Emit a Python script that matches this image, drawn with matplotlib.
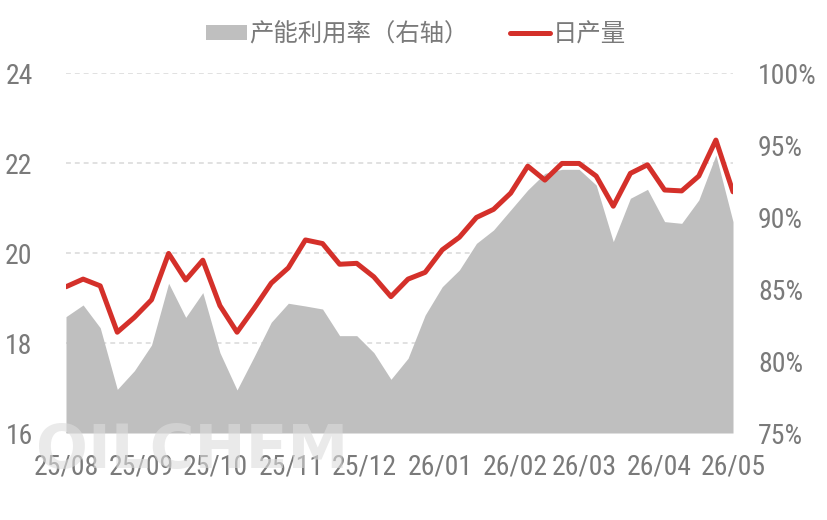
import os
import matplotlib
matplotlib.use('Agg')
import matplotlib.pyplot as plt
from matplotlib.patches import Patch
from matplotlib.lines import Line2D
from matplotlib import font_manager
from matplotlib.font_manager import FontProperties
import pandas as pd

# ---------------- data ----------------
dates = pd.date_range('2025-08-01', periods=40, freq='7D')
daily_output = [19.25, 19.42, 19.27, 18.24, 18.57, 18.96, 19.99, 19.40, 19.84, 18.83,
                18.24, 18.77, 19.33, 19.67, 20.29, 20.21, 19.75, 19.77, 19.47, 19.03,
                19.42, 19.57, 20.07, 20.35, 20.79, 20.97, 21.33, 21.93, 21.62, 21.99,
                21.99, 21.71, 21.04, 21.77, 21.96, 21.40, 21.38, 21.71, 22.51, 21.36]
utilization = [83.08, 83.89, 82.31, 78.03, 79.33, 81.11, 85.40, 83.03, 84.75, 80.58,
               77.99, 80.30, 82.69, 84.01, 83.82, 83.61, 81.76, 81.76, 80.58, 78.73,
               80.19, 83.19, 85.16, 86.32, 88.17, 89.10, 90.49, 91.88, 93.03, 93.31,
               93.31, 92.22, 88.29, 91.30, 91.92, 89.68, 89.56, 91.18, 94.31, 89.68]
month_ticks = ['2025-08-01', '2025-09-01', '2025-10-01', '2025-11-01', '2025-12-01',
               '2026-01-01', '2026-02-01', '2026-03-01', '2026-04-01', '2026-05-01']
month_labels = ['25/08', '25/09', '25/10', '25/11', '25/12',
                '26/01', '26/02', '26/03', '26/04', '26/05']
left_ticks = [16, 18, 20, 22, 24]
right_ticks = [75, 80, 85, 90, 95, 100]
right_labels = ['75%', '80%', '85%', '90%', '95%', '100%']
legend_labels = ['产能利用率（右轴）', '日产量']

# ---------------- fonts ----------------
cjk_font = ['Noto Sans CJK SC', 'DejaVu Sans']
plt.rcParams['font.family'] = cjk_font

preferred = ['NotoSans-Condensed.ttf', 'LiberationSansNarrow-Regular.ttf',
             'NotoSans-SemiCondensed.ttf', 'OpenSans-CondensedRegular.ttf',
             'OpenSans_Condensed-Regular.ttf', 'RobotoCondensed-Regular.ttf']
files = {os.path.basename(f.fname): f.fname for f in font_manager.fontManager.ttflist}
num_path = None
for p in preferred:
    if p in files:
        num_path = files[p]
        break
if num_path is not None:
    num_size = 20
    def num_prop():
        return FontProperties(fname=num_path, size=num_size)
else:
    num_size = 17
    def num_prop():
        return FontProperties(family=['Noto Sans', 'DejaVu Sans'], size=num_size)

RED = '#d4302a'
GRAY = '#bfbfbf'
TXT = '#7a7a7a'

fig = plt.figure(figsize=(8.27, 5.2), dpi=100)
ax = fig.add_axes([66 / 827, 1 - 433 / 520, (733 - 66) / 827, (433 - 73) / 520])
ax2 = ax.twinx()

# grid on left axis (behind the area)
ax.set_ylim(16, 24)
ax.set_yticks(left_ticks)
ax.yaxis.grid(True, color='#d9d9d9', linewidth=1.1, linestyle=(0, (3.2, 2.6)))
ax.set_axisbelow(True)

# area on right axis
ax2.set_ylim(75, 100)
ax2.fill_between(dates, 75, utilization, color=GRAY, linewidth=0, zorder=1)
# line uses the left-axis scale, drawn on top of the area
ax2.plot(dates, daily_output, color=RED, linewidth=3.6, solid_joinstyle='round',
         solid_capstyle='round', transform=ax.transData, zorder=3)

ax.set_xlim(dates[0], dates[-1])
ax.set_xticks(pd.to_datetime(month_ticks))
ax.set_xticklabels(month_labels)
ax2.set_yticks(right_ticks)
ax2.set_yticklabels(right_labels)

for a in (ax, ax2):
    for s in a.spines.values():
        s.set_visible(False)
    a.tick_params(length=0, colors=TXT)

ax.tick_params(axis='y', pad=24)
ax.tick_params(axis='x', pad=15)
ax2.tick_params(axis='y', pad=18)
for lab in ax.get_yticklabels() + ax.get_xticklabels() + ax2.get_yticklabels():
    lab.set_fontproperties(num_prop())
    lab.set_color(TXT)

# watermark
fig.text(36 / 827, 1 - 468 / 520, 'OILCHEM', fontsize=44, fontweight='bold',
         family=['DejaVu Sans'], color='#dcdcdc', alpha=0.6, zorder=10)

# legend
handles = [Patch(facecolor=GRAY, edgecolor='none'),
           Line2D([0], [0], color=RED, linewidth=3.6, solid_capstyle='round')]
fig.legend(handles, legend_labels, loc='center', bbox_to_anchor=(416 / 827, 1 - 34 / 520),
           ncol=2, frameon=False, prop={'family': cjk_font, 'size': 17.6},
           labelcolor=TXT, handlelength=1.65, handleheight=0.55, handletextpad=0.1,
           columnspacing=1.7, borderpad=0.2)

fig.savefig('out.png', dpi=100)
